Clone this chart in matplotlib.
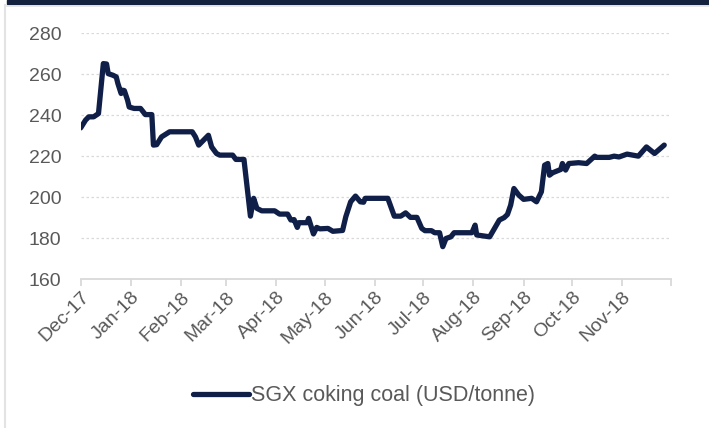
import matplotlib
matplotlib.use("Agg")
import matplotlib.pyplot as plt
import matplotlib.dates as mdates
from matplotlib.lines import Line2D
from matplotlib.patches import Rectangle
import pandas as pd

# SGX coking coal price
dates = ["2017-12-01", "2017-12-04", "2017-12-06", "2017-12-09", "2017-12-12",
         "2017-12-15", "2017-12-17", "2017-12-18", "2017-12-21", "2017-12-23",
         "2017-12-24", "2017-12-26", "2017-12-27", "2017-12-28", "2017-12-30",
         "2017-12-31", "2018-01-03", "2018-01-07", "2018-01-10", "2018-01-14",
         "2018-01-15", "2018-01-17", "2018-01-20", "2018-01-25", "2018-02-08",
         "2018-02-10", "2018-02-12", "2018-02-15", "2018-02-18", "2018-02-20",
         "2018-02-23", "2018-02-25", "2018-03-05", "2018-03-07", "2018-03-12",
         "2018-03-16", "2018-03-18", "2018-03-20", "2018-03-23", "2018-03-31",
         "2018-04-03", "2018-04-08", "2018-04-10", "2018-04-12", "2018-04-14",
         "2018-04-15", "2018-04-20", "2018-04-21", "2018-04-24", "2018-04-26",
         "2018-04-28", "2018-05-03", "2018-05-06", "2018-05-12", "2018-05-14",
         "2018-05-17", "2018-05-20", "2018-05-23", "2018-05-25", "2018-05-26",
         "2018-06-02", "2018-06-09", "2018-06-13", "2018-06-17", "2018-06-20",
         "2018-06-23", "2018-06-27", "2018-06-30", "2018-07-02", "2018-07-06",
         "2018-07-08", "2018-07-11", "2018-07-13", "2018-07-15", "2018-07-18",
         "2018-07-20", "2018-07-31", "2018-08-02", "2018-08-03", "2018-08-11",
         "2018-08-14", "2018-08-17", "2018-08-20", "2018-08-22", "2018-08-24",
         "2018-08-26", "2018-08-29", "2018-09-01", "2018-09-06", "2018-09-09",
         "2018-09-12", "2018-09-14", "2018-09-16", "2018-09-17", "2018-09-19",
         "2018-09-24", "2018-09-25", "2018-09-27", "2018-09-29", "2018-10-05",
         "2018-10-10", "2018-10-15", "2018-10-16", "2018-10-24", "2018-10-27",
         "2018-10-30", "2018-11-04", "2018-11-11", "2018-11-16", "2018-11-21",
         "2018-11-27"]
price = [233.8, 237.6, 239.2, 239.2, 240.8,
         265.2, 265.0, 260.3, 259.5, 258.7,
         255.5, 250.6, 252.2, 252.0, 247.3,
         244.0, 243.3, 243.3, 240.3, 240.3,
         225.4, 225.6, 229.4, 231.9, 231.9,
         229.4, 225.4, 227.8, 230.2, 224.5,
         221.3, 220.5, 220.5, 218.4, 218.4,
         190.7, 199.4, 194.5, 193.3, 193.3,
         191.7, 191.7, 188.8, 189.0, 185.2,
         187.5, 187.5, 189.6, 182.0, 185.2,
         184.5, 184.7, 183.3, 183.7, 190.4,
         197.7, 200.5, 197.7, 197.5, 199.4,
         199.4, 199.4, 190.7, 190.7, 192.3,
         190.1, 190.1, 184.7, 183.6, 183.6,
         182.6, 182.6, 175.8, 179.8, 180.6,
         182.6, 182.6, 186.3, 181.5, 180.6,
         184.7, 188.8, 190.0, 191.5, 196.1,
         204.2, 201.0, 198.9, 199.4, 197.7,
         202.6, 215.6, 216.4, 210.7, 211.9,
         213.5, 216.4, 213.2, 216.4, 216.8,
         216.4, 220.0, 219.4, 219.4, 220.0,
         219.6, 221.0, 220.0, 224.5, 221.3,
         225.4]
series_name = "SGX coking coal (USD/tonne)"
yticks = [160, 180, 200, 220, 240, 260, 280]

navy = "#0f1f48"
grey_text = "#595959"
grey_line = "#d9d9d9"

plt.rcParams["font.family"] = ["Liberation Sans", "DejaVu Sans"]

x = pd.to_datetime(dates)

fig = plt.figure(figsize=(7.09, 4.28), dpi=100)
ax = fig.add_axes([80.7 / 709, 1 - 279 / 428, 590 / 709, (279 - 33.3) / 428])

ax.plot(x, price, color=navy, lw=3.8, solid_joinstyle="round",
        solid_capstyle="round", label=series_name)

ax.set_ylim(160, 280)
ax.set_yticks(yticks)
ax.set_xlim(pd.Timestamp("2017-12-01"), pd.Timestamp("2018-12-01"))
ax.xaxis.set_major_locator(mdates.MonthLocator())
ax.xaxis.set_major_formatter(mdates.DateFormatter("%b-%y"))

ax.grid(axis="y", color=grey_line, ls=(0, (2, 2)), lw=0.9)
ax.set_axisbelow(True)
for s in ["top", "right", "left"]:
    ax.spines[s].set_visible(False)
ax.spines["bottom"].set_color(grey_line)
ax.spines["bottom"].set_linewidth(1.3)
ax.tick_params(axis="y", length=0, pad=14, labelsize=14, labelcolor=grey_text)
ax.tick_params(axis="x", length=5, width=1.3, color=grey_line, pad=2,
               labelsize=14, labelcolor=grey_text)
labels = ax.get_xticklabels()
for lab in labels:
    lab.set_rotation(45)
    lab.set_ha("right")
    lab.set_rotation_mode("anchor")
# last tick (Dec-18) has no label in the reference
ax.xaxis.get_major_ticks()[-1].label1.set_visible(False)

fig.legend(handles=[Line2D([], [], color=navy, lw=3.8, solid_capstyle="round")],
           labels=[series_name], loc="center", bbox_to_anchor=(364 / 709, 1 - 396 / 428),
           frameon=False, fontsize=15.5, labelcolor=grey_text, handlelength=2.6,
           handletextpad=0.1)

# frame decorations of the source report
fig.patches.append(Rectangle((7 / 709, 1 - 4 / 428), 1, 4 / 428,
                             transform=fig.transFigure, color="#14213f"))
fig.lines.append(Line2D([7 / 709, 1], [1 - 5.5 / 428] * 2,
                        transform=fig.transFigure, color="#e3e3e3", lw=1.2))
fig.lines.append(Line2D([4.5 / 709] * 2, [0, 1 - 5 / 428],
                        transform=fig.transFigure, color="#e3e3e3", lw=1.5))

fig.savefig("out.png", dpi=100)
